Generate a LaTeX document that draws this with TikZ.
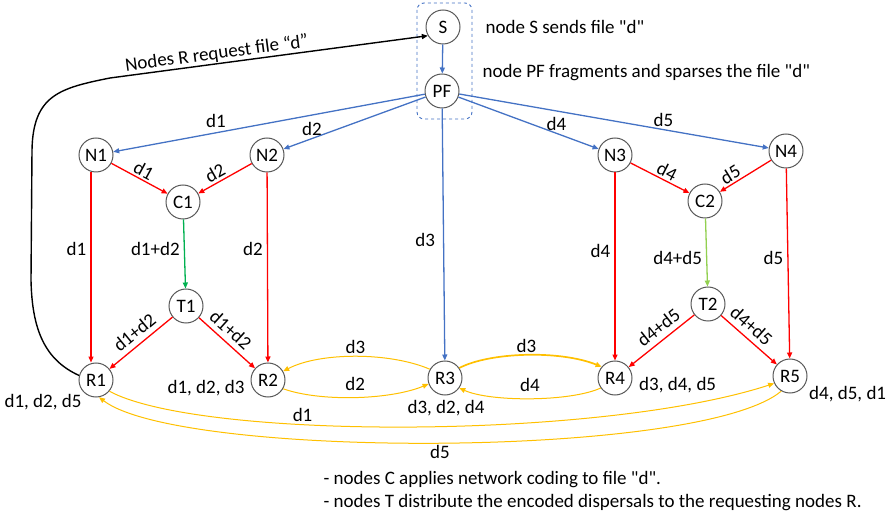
\documentclass[tikz,border=0pt]{standalone}
\usepackage{fontspec}
\setmainfont{Carlito}[Ligatures=TeXOff]
\usetikzlibrary{arrows.meta}

\definecolor{pfblue}{HTML}{4472C4}
\definecolor{ered}{HTML}{FF0000}
\definecolor{cgreen}{HTML}{00B050}
\definecolor{lgreen}{HTML}{92D050}
\definecolor{yel}{HTML}{FFC000}
\definecolor{ring}{HTML}{595959}

\begin{document}
\begin{tikzpicture}[x=1pt, y=-1pt,
  every node/.style={font=\fontsize{19}{22}\selectfont, text=black},
  rn/.style={circle, draw=ring, line width=1pt, fill=white, minimum size=34pt, inner sep=0pt},
  tip/.style={-{Triangle[length=6pt, width=5pt]}},
  blueln/.style={tip, pfblue, line width=1.3pt},
  redln/.style={tip, ered, line width=1.3pt},
  yelln/.style={tip, yel, line width=1pt},
  lbl/.style={inner sep=2pt}]

\useasboundingbox (0,0) rectangle (891,518);

\draw[pfblue, dashed, line width=0.9pt, rounded corners=7pt] (417,3) rectangle (472,119);

\node[rn] (S) at (443,27) {S};
\node[rn] (PF) at (442,91) {PF};
\node[rn] (N1) at (96,155) {N1};
\node[rn] (N2) at (267,155) {N2};
\node[rn] (N3) at (615,155) {N3};
\node[rn] (N4) at (786,151) {N4};
\node[rn] (C1) at (183,202) {C1};
\node[rn] (C2) at (705,201) {C2};
\node[rn] (T1) at (186,306) {T1};
\node[rn] (T2) at (708,304) {T2};
\node[rn] (R1) at (96,380) {R1};
\node[rn] (R2) at (268,380) {R2};
\node[rn] (R3) at (445,378) {R3};
\node[rn] (R4) at (615,378) {R4};
\node[rn] (R5) at (790,376) {R5};

\node[anchor=west] (sinfo) at (482,27) {node S sends file "d"};
\node[anchor=west] (pfinfo) at (479,73) {node PF fragments and sparses the file "d"};

% request from the R nodes
\draw[tip, black, line width=1.4pt] (R1.165) .. controls (45,360) and (32,330) .. (31,280)
  -- (32,150) .. controls (33,95) and (60,88) .. (110,78)
  -- (S.210) node[pos=0.34, sloped, above, inner sep=1pt] {Nodes R request file “d”};

\draw[blueln] (S) -- (PF);
\draw[blueln] (PF) -- (N1) node[lbl, pos=0.67, above=3pt] {d1};
\draw[blueln] (PF) -- (N2) node[lbl, pos=0.8, above] {d2};
\draw[blueln] (PF) -- (R3) node[lbl, pos=0.52, left=6pt] {d3};
\draw[blueln] (PF) -- (N3) node[lbl, pos=0.7, above] {d4};
\draw[blueln] (PF) -- (N4) node[lbl, pos=0.66, above] {d5};

\draw[redln] (N1) -- (C1) node[lbl, midway, sloped, above] {d1};
\draw[redln] (N2) -- (C1) node[lbl, pos=0.6, sloped, above] {d2};
\draw[redln] (N3) -- (C2) node[lbl, pos=0.55, sloped, above] {d4};
\draw[redln] (N4) -- (C2) node[lbl, pos=0.7, sloped, above] {d5};

\draw[redln] ([xshift=-5pt]N1.south) -- ([xshift=-5pt]R1.north) node[lbl, pos=0.4, left=2pt] {d1};
\draw[redln] (N2) -- (R2) node[lbl, pos=0.4, left=2pt] {d2};
\draw[redln] (N3) -- (R4) node[lbl, pos=0.42, left=2pt] {d4};
\draw[redln] (N4) -- (R5) node[lbl, pos=0.47, left=2pt] {d5};

\draw[tip, cgreen, line width=1.3pt] (C1) -- (T1) node[lbl, pos=0.43, left=2pt] {d1+d2};
\draw[tip, lgreen, line width=1.3pt] (C2) -- (T2) node[lbl, pos=0.58, left=2pt] {d4+d5};

\draw[redln] (T1) -- (R1) node[lbl, pos=0.48, sloped, above=3pt] {d1+d2};
\draw[redln] (T1) -- (R2) node[lbl, pos=0.42, sloped, above=3pt] {d1+d2};
\draw[redln] (T2) -- (R4) node[lbl, pos=0.43, sloped, above=3pt] {d4+d5};
\draw[redln] (T2) -- (R5) node[lbl, pos=0.4, sloped, above=3pt] {d4+d5};

% exchanges between the R nodes
\draw[yelln] (R3.150) .. controls (390,352) and (320,352) .. (R2.30) node[lbl, midway, above] {d3};
\draw[yelln] (R2.-30) .. controls (320,402) and (390,400) .. (R3.200) node[lbl, midway, above=4pt] {d2};
\draw[yelln, line width=1.7pt] (R3.35) .. controls (490,352) and (560,350) .. (R4.140) node[lbl, midway, above] {d3};
\draw[yelln] (R4.215) .. controls (570,402) and (490,402) .. (R3.-35) node[lbl, midway, above=4pt] {d4};
\draw[yelln] (R1.-40) .. controls (200,440) and (600,440) .. (R5.205) node[lbl, pos=0.36, above] {d1};
\draw[yelln] (R5.240) .. controls (700,459) and (180,459) .. (R1.-80) node[lbl, midway, below] {d5};

\node[lbl] (have1) at (43,402) {d1, d2, d5};
\node[lbl] (have2) at (206,388) {d1, d2, d3};
\node[lbl] (have3) at (446,408) {d3, d2, d4};
\node[lbl, anchor=west] (have4) at (637,385) {d3, d4, d5};
\node[lbl, anchor=west] (have5) at (807,394) {d4, d5, d1};

\node[anchor=west] (note1) at (320,480) {- nodes C applies network coding to file "d".};
\node[anchor=west] (note2) at (320,503) {- nodes T distribute the encoded dispersals to the requesting nodes R.};

\end{tikzpicture}
\end{document}
